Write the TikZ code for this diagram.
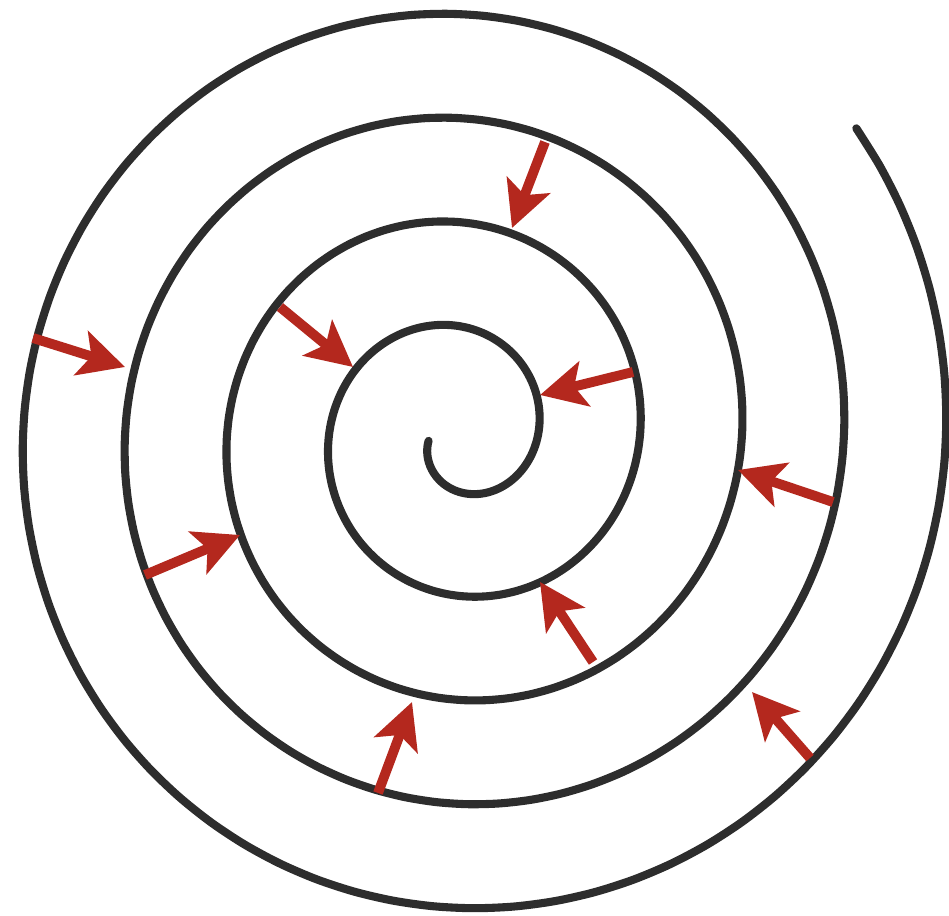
\documentclass[tikz,border=0pt]{standalone}
\usepackage{xcolor}
\usetikzlibrary{arrows.meta}
\definecolor{spiralgray}{RGB}{45, 45, 45}
\definecolor{arrowred}{RGB}{180, 40, 30}

\tikzset{
    coil/.style={draw=spiralgray, line width=2.3pt, line cap=round, line join=round},
    inarrow/.style={draw=arrowred, line width=2.8pt, -{Stealth[length=13pt, width=13pt, inset=3pt]}}
}

\begin{document}
\begin{tikzpicture}[x=0.01cm, y=-0.01cm]
        \useasboundingbox (0,0) rectangle (949,916);

        % spiral, from the inner end outwards (centre at 459,435)
        \draw[coil] plot[domain=190:1837, samples=330, smooth]
            ({459 + 0.2833*(\x-81)*cos(\x)}, {435 - 0.2889*(\x-73)*sin(\x)});

        % arrows pointing inwards, from one turn to the next
        \foreach \i/\tx/\ty/\hx/\hy in {1/545/142/512/228, 2/33/338/125/367, 3/280/307/353/367,
                                        4/145/575/240/535, 5/633/372/540/395, 6/833/502/738/470,
                                        7/593/662/540/582, 8/378/793/412/702, 9/810/758/752/692} {
            \coordinate (tail\i) at (\tx,\ty);
            \coordinate (tip\i) at (\hx,\hy);
            \draw[inarrow] (tail\i) -- (tip\i);
        }
    \end{tikzpicture}
\end{document}
